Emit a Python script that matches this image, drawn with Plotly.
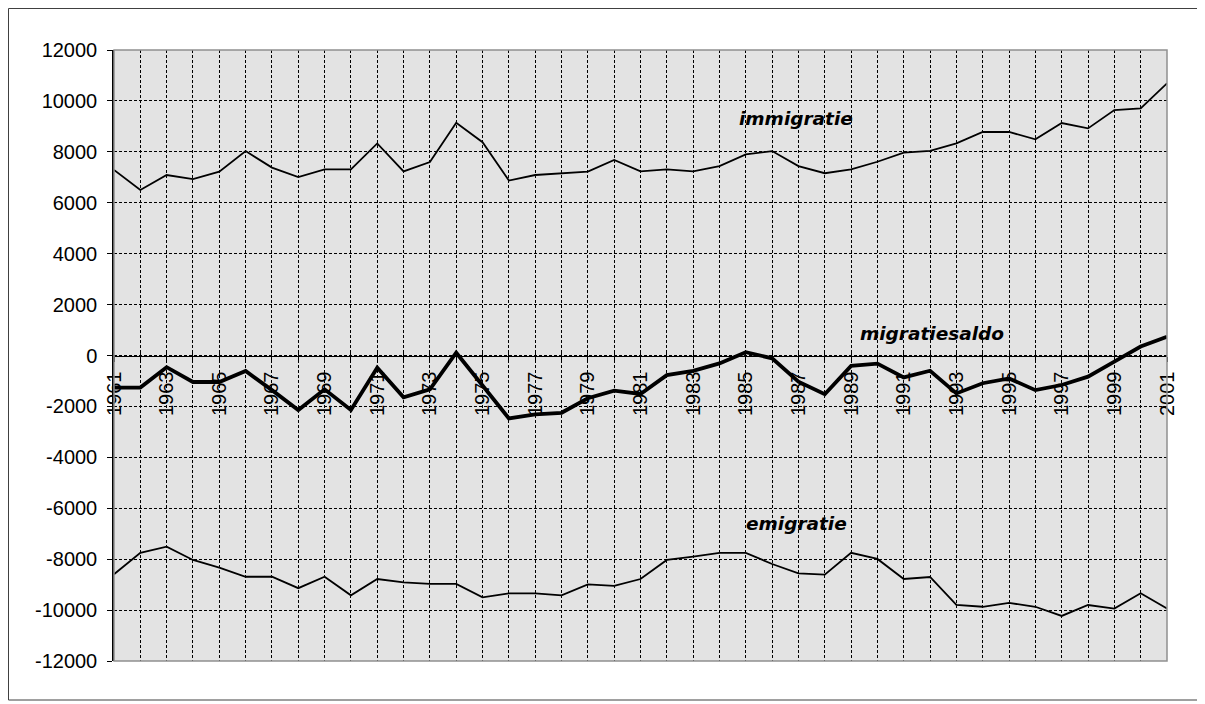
import plotly.graph_objects as go

years = list(range(1961, 2002))

immigratie = [7290, 6500, 7090, 6930, 7220, 8030, 7380, 7010, 7310, 7310,
              8330, 7230, 7600, 9140, 8380, 6870, 7090, 7160, 7220, 7680,
              7230, 7310, 7230, 7440, 7900, 8030, 7440, 7160, 7310, 7610,
              7970, 8040, 8330, 8780, 8780, 8490, 9130, 8920, 9640, 9710,
              10690]

emigratie = [-8590, -7750, -7510, -8030, -8330, -8690, -8690, -9140, -8690, -9420,
             -8780, -8910, -8970, -8970, -9500, -9340, -9340, -9420, -8990, -9050,
             -8780, -8030, -7900, -7750, -7750, -8190, -8560, -8610, -7750, -7990,
             -8780, -8700, -9800, -9870, -9720, -9870, -10230, -9800, -9940, -9340,
             -9940]

migratiesaldo = [-1260, -1260, -460, -1040, -1040, -610, -1360, -2140, -1330, -2140,
                 -480, -1640, -1330, 110, -1180, -2470, -2310, -2250, -1680, -1380,
                 -1510, -770, -600, -310, 130, -110, -1030, -1520, -410, -320,
                 -860, -600, -1490, -1090, -900, -1360, -1160, -830, -240, 350,
                 740]

tick_labels = [str(y) if (y - 1961) % 2 == 0 else "" for y in years]
y_ticks = list(range(-12000, 12001, 2000))
y_tick_labels = [str(v) for v in y_ticks]

# page body has an 8px margin: figure drawn from page (8, 8)
W, H = 1197, 696
L, R, T, B = 106, 38, 42, 43
pw, ph = W - L - R, H - T - B

fig = go.Figure()
fig.add_trace(go.Scatter(x=years, y=immigratie, mode="lines",
                         line=dict(color="black", width=1.8), hoverinfo="skip"))
fig.add_trace(go.Scatter(x=years, y=emigratie, mode="lines",
                         line=dict(color="black", width=1.8), hoverinfo="skip"))
fig.add_trace(go.Scatter(x=years, y=migratiesaldo, mode="lines",
                         line=dict(color="black", width=3.8), hoverinfo="skip"))
# invisible trace to hold the overlay axis (upper half of crossing ticks)
fig.add_trace(go.Scatter(x=[years[0]], y=[None], xaxis="x2", mode="lines",
                         hoverinfo="skip", showlegend=False))

lab_font = dict(family="DejaVu Sans", size=18.5, color="black")
fig.add_annotation(x=1986.92, y=9290, text="<b><i>immigratie</i></b>",
                   showarrow=False, font=lab_font)
fig.add_annotation(x=1992.07, y=845, text="<b><i>migratiesaldo</i></b>",
                   showarrow=False, font=lab_font)
fig.add_annotation(x=1986.94, y=-6580, text="<b><i>emigratie</i></b>",
                   showarrow=False, font=lab_font)

# plot area frame
fig.add_shape(type="rect", xref="paper", yref="paper", x0=0, x1=1, y0=0, y1=1,
              line=dict(color="#909090", width=1.5), layer="above")
# outer chart border
fig.add_shape(type="rect", xref="paper", yref="paper",
              x0=(0.5 - L) / pw, x1=(1192 - L) / pw,
              y0=(H - B - 692) / ph, y1=(H - B - 0.5) / ph,
              line=dict(color="#404040", width=1))

fig.update_layout(
    width=W, height=H,
    margin=dict(l=L, r=R, t=T, b=B, autoexpand=False),
    paper_bgcolor="white",
    plot_bgcolor="#e3e3e3",
    showlegend=False,
    font=dict(family="Liberation Sans, Arial", size=20, color="black"),
    xaxis=dict(
        range=[1961, 2001], tickmode="array", tickvals=years, ticktext=tick_labels,
        tickangle=-90, anchor="free", position=0.5, automargin=False,
        showline=True, linecolor="black", linewidth=1,
        ticks="outside", ticklen=5, tickcolor="black", tickwidth=1,
        ticklabelstandoff=2,
        showgrid=True, gridcolor="black", gridwidth=1, griddash="3px,2px",
        zeroline=False, tickfont=dict(size=20),
    ),
    xaxis2=dict(
        range=[1961, 2001], tickmode="array", tickvals=years,
        overlaying="x", anchor="free", position=0.5,
        showline=False, showticklabels=False, showgrid=False, zeroline=False,
        ticks="inside", ticklen=5, tickcolor="black", tickwidth=1,
    ),
    yaxis=dict(
        range=[-12000, 12000], tickmode="array", tickvals=y_ticks,
        ticktext=y_tick_labels, automargin=False,
        showline=True, linecolor="black", linewidth=1.5,
        ticks="outside", ticklen=5, tickcolor="black", tickwidth=1,
        ticklabelstandoff=6,
        showgrid=True, gridcolor="black", gridwidth=1, griddash="3px,2px",
        zeroline=False, tickfont=dict(size=20),
    ),
)

fig.write_html("out.html")
